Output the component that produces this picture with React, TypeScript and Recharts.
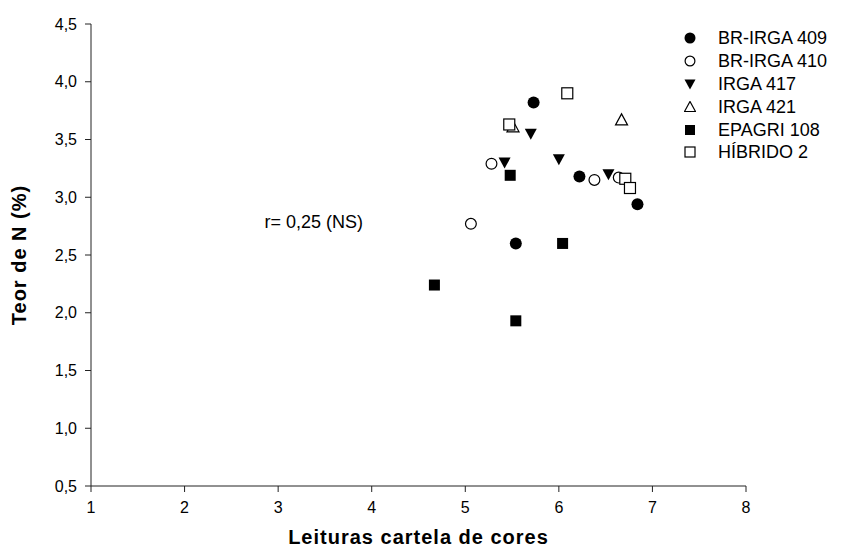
import React from 'react';
import { ScatterChart, Scatter, XAxis, YAxis, Legend, Label, ReferenceDot } from 'recharts';

const brIrga409 = [
  { x: 5.73, y: 3.82 },
  { x: 6.22, y: 3.18 },
  { x: 6.84, y: 2.94 },
  { x: 5.54, y: 2.6 },
];
const brIrga410 = [
  { x: 5.28, y: 3.29 },
  { x: 6.38, y: 3.15 },
  { x: 6.64, y: 3.17 },
  { x: 5.06, y: 2.77 },
];
const irga417 = [
  { x: 5.7, y: 3.55 },
  { x: 5.42, y: 3.3 },
  { x: 6.0, y: 3.33 },
  { x: 6.53, y: 3.2 },
];
const irga421 = [
  { x: 5.51, y: 3.61 },
  { x: 6.67, y: 3.67 },
];
const epagri108 = [
  { x: 5.48, y: 3.19 },
  { x: 6.04, y: 2.6 },
  { x: 5.54, y: 1.93 },
  { x: 4.67, y: 2.24 },
];
const hibrido2 = [
  { x: 6.09, y: 3.9 },
  { x: 5.47, y: 3.63 },
  { x: 6.71, y: 3.16 },
  { x: 6.76, y: 3.08 },
];

const xTicks = [1, 2, 3, 4, 5, 6, 7, 8];
const yTicks = [0.5, 1.0, 1.5, 2.0, 2.5, 3.0, 3.5, 4.0, 4.5];
const annotation = { x: 3.38, y: 2.79, text: 'r= 0,25 (NS)' };

type Kind = 'fcircle' | 'ocircle' | 'ftri' | 'otri' | 'fsquare' | 'osquare';

const mark = (kind: Kind, cx: number, cy: number, s: number) => {
  const h = s / 2;
  switch (kind) {
    case 'fcircle':
      return <circle cx={cx} cy={cy} r={h} fill="#000" />;
    case 'ocircle':
      return <circle cx={cx} cy={cy} r={h - 0.6} fill="#fff" stroke="#000" strokeWidth={1.2} />;
    case 'ftri':
      return <polygon points={`${cx - h},${cy - h + 1} ${cx + h},${cy - h + 1} ${cx},${cy + h}`} fill="#000" />;
    case 'otri':
      return <polygon points={`${cx - h},${cy + h - 1} ${cx + h},${cy + h - 1} ${cx},${cy - h}`} fill="#fff" stroke="#000" strokeWidth={1.2} />;
    case 'fsquare':
      return <rect x={cx - h + 0.5} y={cy - h + 0.5} width={s - 1} height={s - 1} fill="#000" />;
    default:
      return <rect x={cx - h + 0.5} y={cy - h + 0.5} width={s - 1} height={s - 1} fill="#fff" stroke="#000" strokeWidth={1.2} />;
  }
};

const series: { name: string; data: { x: number; y: number }[]; kind: Kind }[] = [
  { name: 'BR-IRGA 409', data: brIrga409, kind: 'fcircle' },
  { name: 'BR-IRGA 410', data: brIrga410, kind: 'ocircle' },
  { name: 'IRGA 417', data: irga417, kind: 'ftri' },
  { name: 'IRGA 421', data: irga421, kind: 'otri' },
  { name: 'EPAGRI 108', data: epagri108, kind: 'fsquare' },
  { name: 'HÍBRIDO 2', data: hibrido2, kind: 'osquare' },
];

const font = 'Liberation Sans, Arial, sans-serif';

const renderLegend = () => (
  <div style={{ fontFamily: font, fontSize: 18, color: '#000', lineHeight: 1, textAlign: 'left' }}>
    {series.map((s) => (
      <div key={s.name} style={{ display: 'flex', alignItems: 'center', height: 22.8 }}>
        <svg width={12} height={12} style={{ marginRight: 22 }}>
          {mark(s.kind, 6, 6, 11)}
        </svg>
        <span>{s.name}</span>
      </div>
    ))}
  </div>
);

const fmt = (v: number) => v.toFixed(1).replace('.', ',');

const titleStyle = { fontWeight: 'bold', fontSize: 20, letterSpacing: 1, fontFamily: font, fill: '#000' };

export default function App() {
  return (
    <div style={{ position: 'absolute', left: 0, top: 0, background: '#fff' }}>
      <ScatterChart width={842} height={549} margin={{ top: 24, right: 96, bottom: 0, left: 0 }}>
        <XAxis
          type="number"
          dataKey="x"
          domain={[1, 8]}
          ticks={xTicks}
          allowDataOverflow
          height={63}
          stroke="#222"
          tickSize={6}
          tick={{ fill: '#000', fontSize: 16, fontFamily: font }}
          tickMargin={10}
        >
          <Label value="Leituras cartela de cores" position="insideBottom" offset={5} style={titleStyle} />
        </XAxis>
        <YAxis
          type="number"
          dataKey="y"
          domain={[0.5, 4.5]}
          ticks={yTicks}
          allowDataOverflow
          width={91}
          stroke="#222"
          tickSize={6}
          tickFormatter={fmt}
          tick={{ fill: '#000', fontSize: 16, fontFamily: font }}
          tickMargin={8}
        >
          <Label
            value="Teor de N (%)"
            angle={-90}
            position="insideLeft"
            offset={19}
            style={{ ...titleStyle, textAnchor: 'middle' }}
          />
        </YAxis>
        <ReferenceDot
          x={annotation.x}
          y={annotation.y}
          r={0}
          stroke="none"
          fill="none"
          label={{ value: annotation.text, position: 'center', fill: '#000', fontSize: 18, fontFamily: font }}
        />
        {series.map((s) => (
          <Scatter
            key={s.name}
            name={s.name}
            data={s.data}
            isAnimationActive={false}
            shape={(p: any) => mark(s.kind, p.cx, p.cy, 12)}
          />
        ))}
        <Legend
          layout="horizontal"
          verticalAlign="middle"
          align="center"
          wrapperStyle={{ top: 27, left: 684, width: 158 }}
          content={renderLegend}
        />
      </ScatterChart>
    </div>
  );
}
